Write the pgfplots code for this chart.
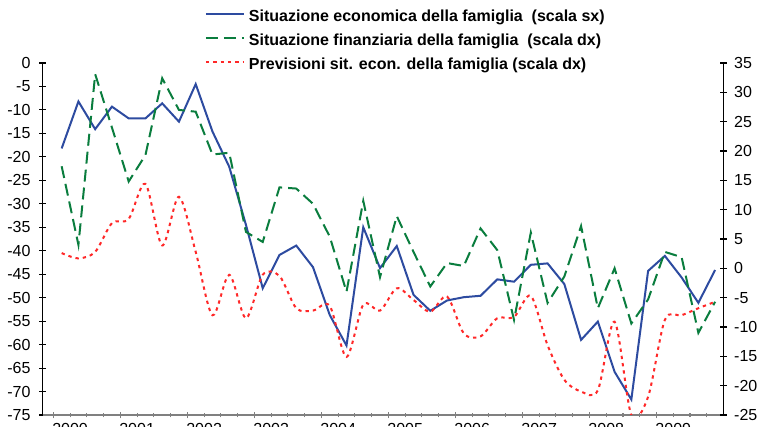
\documentclass[border=0pt]{standalone}
\usepackage{fontspec}
\setmainfont{Liberation Sans}
\usepackage{pgfplots}
\pgfplotsset{compat=1.18}
\definecolor{cblue}{RGB}{45,75,160}
\definecolor{cgreen}{RGB}{10,125,62}
\definecolor{cred}{RGB}{255,40,40}
\definecolor{axgray}{RGB}{128,128,128}
\begin{document}
\begin{tikzpicture}
\useasboundingbox (0,0) rectangle (567.75pt,320.25pt);
\clip (0,0) rectangle (567.75pt,320.25pt);
\pgfplotsset{
  base/.style={
    at={(31.875pt,9pt)}, anchor=south west,
    scale only axis, width=510.75pt, height=264pt,
    xmin=-1.144, xmax=39.5,
    tick align=center,
    /pgf/number format/assume math mode=true,
    tick label style={font=\fontsize{12}{14}\selectfont},
    clip mode=individual,
    major tick length=5pt, minor tick length=3.5pt,
  }
}
% left axis
\begin{axis}[base,
  axis x line*=bottom, axis y line*=left,
  x axis line style={draw=axgray, line width=1.4pt},
  y axis line style={draw=black, line width=0.8pt},
  ymin=-75, ymax=0, ytick={-75,-70,...,0},
  xtick={-0.5,3.5,...,35.5},
  xticklabels={2000,2001,2002,2003,2004,2005,2006,2007,2008,2009},
  minor xtick={0.5,1.5,2.5,4.5,5.5,6.5,8.5,9.5,10.5,12.5,13.5,14.5,16.5,17.5,18.5,20.5,21.5,22.5,24.5,25.5,26.5,28.5,29.5,30.5,32.5,33.5,34.5,36.5,37.5,38.5},
  xticklabel style={xshift=12.6pt, yshift=0pt},
  x tick style={draw=axgray, line width=0.8pt},
  y tick style={draw=black, line width=0.8pt},
  yticklabel style={xshift=-3pt},
]
\addplot[cblue, line width=1.5pt, no marks] coordinates {
(0,-18.2)(1,-8.2)(2,-14.1)(3,-9.3)(4,-11.8)(5,-11.8)(6,-8.6)(7,-12.5)(8,-4.5)(9,-14.6)
(10,-22.1)(11,-34.5)(12,-48.0)(13,-40.9)(14,-38.9)(15,-43.5)(16,-53.7)(17,-60.2)(18,-35.0)(19,-43.7)
(20,-39.0)(21,-49.4)(22,-52.8)(23,-50.6)(24,-49.9)(25,-49.6)(26,-46.1)(27,-46.6)(28,-43.0)(29,-42.7)
(30,-47.1)(31,-59.0)(32,-55.1)(33,-65.8)(34,-71.7)(35,-44.3)(36,-41.1)(37,-45.7)(38,-51.1)(39,-44.1)
};
\end{axis}
% right axis
\begin{axis}[base,
  axis x line=none, axis y line*=right,
  y axis line style={draw=black, line width=0.8pt},
  ymin=-25, ymax=35, ytick={-25,-20,...,35},
  y tick style={draw=black, line width=0.8pt},
  yticklabel style={xshift=2pt},
  legend style={draw=none, fill=none, inner sep=0pt, outer sep=0pt,
    at={(0.2386,1.1506)}, anchor=north west,
    font=\fontsize{12}{14}\selectfont\bfseries,
    nodes={inner sep=0pt, text height=9pt, text depth=3pt},
    row sep=6pt, column sep=3pt},
  legend cell align=left,
  legend image code/.code={\draw[#1] (0pt,3.2pt) -- (28.5pt,3.2pt);},
]
\addlegendimage{cblue, line width=1.5pt}
\addlegendentry{Situazione economica della famiglia\ \ (scala sx)}
\addplot[cgreen, line width=1.5pt, dash pattern=on 9pt off 4.5pt, no marks] coordinates {
(0,17.4)(1,4.0)(2,33.1)(3,24.0)(4,14.8)(5,19.3)(6,32.4)(7,27.0)(8,26.7)(9,19.4)
(10,19.7)(11,6.2)(12,4.5)(13,13.8)(14,13.6)(15,11.0)(16,5.4)(17,-4.0)(18,11.5)(19,-1.5)
(20,8.9)(21,2.8)(22,-3.1)(23,0.9)(24,0.4)(25,6.8)(26,3.1)(27,-8.8)(28,6.1)(29,-5.9)
(30,-1.4)(31,7.2)(32,-6.8)(33,0.0)(34,-9.4)(35,-5.3)(36,2.8)(37,1.9)(38,-11.0)(39,-5.7)
};
\addlegendentry{Situazione finanziaria della famiglia\ \ (scala dx)}
\addplot[cred, line width=1.5pt, dash pattern=on 2.5pt off 3pt, no marks, smooth, tension=0.5] coordinates {
(0,2.6)(1,1.7)(2,2.8)(3,7.7)(4,8.4)(5,14.4)(6,3.9)(7,12.2)(8,2.8)(9,-8.0)
(10,-1.1)(11,-8.5)(12,-1.1)(13,-1.3)(14,-6.8)(15,-7.2)(16,-6.4)(17,-15.1)(18,-6.2)(19,-7.2)
(20,-3.4)(21,-5.4)(22,-7.4)(23,-4.8)(24,-11.1)(25,-11.6)(26,-8.5)(27,-8.3)(28,-4.7)(29,-13.1)
(30,-19.0)(31,-21.0)(32,-20.8)(33,-9.1)(34,-25.0)(35,-21.9)(36,-8.8)(37,-8.0)(38,-6.8)(39,-5.7)
};
\addlegendentry{Previsioni sit. econ. della famiglia (scala dx)}
\end{axis}
\end{tikzpicture}
\end{document}
